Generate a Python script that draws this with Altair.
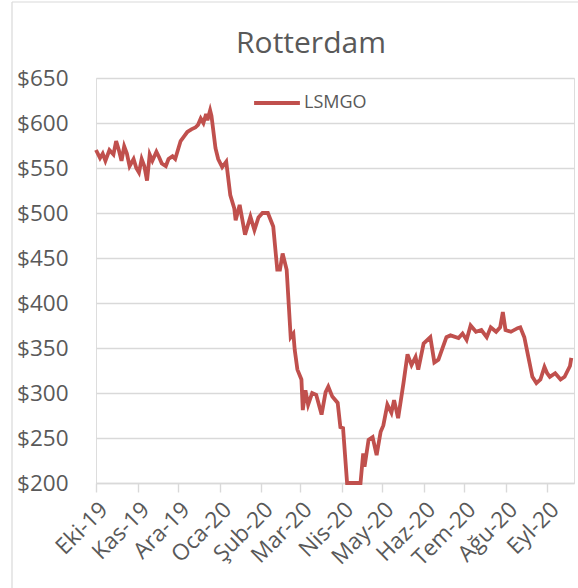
import altair as alt
import pandas as pd

# LSMGO bunker price, Rotterdam (USD/t)
dates = [
    "2019-10-01", "2019-10-04", "2019-10-06", "2019-10-08", "2019-10-11", "2019-10-14",
    "2019-10-16", "2019-10-18", "2019-10-20", "2019-10-22", "2019-10-24", "2019-10-26",
    "2019-10-29", "2019-10-31",
    "2019-11-02", "2019-11-04", "2019-11-06", "2019-11-08", "2019-11-10", "2019-11-12",
    "2019-11-15", "2019-11-17", "2019-11-19", "2019-11-22", "2019-11-24", "2019-11-27",
    "2019-11-29",
    "2019-12-01", "2019-12-03", "2019-12-06", "2019-12-08", "2019-12-11", "2019-12-14",
    "2019-12-16", "2019-12-18", "2019-12-20", "2019-12-22", "2019-12-23", "2019-12-25",
    "2019-12-26", "2019-12-29", "2019-12-31",
    "2020-01-03", "2020-01-06", "2020-01-09", "2020-01-12", "2020-01-13", "2020-01-16",
    "2020-01-20", "2020-01-24", "2020-01-27", "2020-01-30",
    "2020-02-02", "2020-02-06", "2020-02-10", "2020-02-13", "2020-02-15", "2020-02-17",
    "2020-02-20", "2020-02-23", "2020-02-25", "2020-02-26", "2020-02-28",
    "2020-03-02", "2020-03-03", "2020-03-05", "2020-03-07", "2020-03-10", "2020-03-13",
    "2020-03-17", "2020-03-20", "2020-03-22", "2020-03-25", "2020-03-29", "2020-03-31",
    "2020-04-02", "2020-04-05", "2020-04-09", "2020-04-15", "2020-04-17", "2020-04-18",
    "2020-04-21", "2020-04-24", "2020-04-27", "2020-04-30",
    "2020-05-02", "2020-05-05", "2020-05-08", "2020-05-10", "2020-05-13", "2020-05-17",
    "2020-05-20", "2020-05-23", "2020-05-26", "2020-05-28",
    "2020-06-01", "2020-06-06", "2020-06-09", "2020-06-12", "2020-06-18", "2020-06-21",
    "2020-06-27", "2020-06-30",
    "2020-07-03", "2020-07-06", "2020-07-10", "2020-07-14", "2020-07-18", "2020-07-21",
    "2020-07-25", "2020-07-28", "2020-07-30",
    "2020-08-01", "2020-08-05", "2020-08-10", "2020-08-12", "2020-08-15", "2020-08-18",
    "2020-08-21", "2020-08-24", "2020-08-27", "2020-08-30",
    "2020-09-01", "2020-09-03", "2020-09-07", "2020-09-11", "2020-09-14", "2020-09-18",
    "2020-09-19",
]
lsmgo = [
    570, 561, 566, 558, 570, 565, 580, 570, 558, 574, 566, 552, 560, 550,
    545, 560, 552, 536, 565, 558, 568, 562, 555, 552, 560, 563, 560,
    570, 580, 586, 590, 593, 595, 598, 605, 600, 610, 603, 614, 608, 572, 560,
    551, 557, 520, 505, 492, 509, 476, 496, 481, 495,
    500, 500, 485, 437, 437, 455, 437, 362, 366, 348, 326,
    315, 281, 303, 287, 300, 298, 276, 301, 307, 296, 289, 262,
    261, 200, 200, 200, 233, 218, 248, 251, 231, 257,
    264, 287, 278, 292, 272, 311, 343, 331, 340, 326,
    355, 362, 334, 337, 362, 364, 361, 366,
    359, 375, 368, 370, 362, 373, 368, 373, 390,
    370, 368, 372, 373, 362, 340, 318, 311, 315, 329,
    322, 318, 322, 315, 318, 330, 339,
]

# Month ticks and their Turkish labels
tick_months = ["2019-10", "2019-11", "2019-12", "2020-01", "2020-02", "2020-03",
               "2020-04", "2020-05", "2020-06", "2020-07", "2020-08", "2020-09"]
tick_labels = ["Eki-19", "Kas-19", "Ara-19", "Oca-20", "Şub-20", "Mar-20",
               "Nis-20", "May-20", "Haz-20", "Tem-20", "Ağu-20", "Eyl-20"]
y_ticks = [200, 250, 300, 350, 400, 450, 500, 550, 600, 650]

chart_title = "Rotterdam"
series_name = "LSMGO"
df = pd.DataFrame({"date": dates, "price": lsmgo, "series": series_name})

tick_values = [
    alt.DateTime(year=int(m[:4]), month=int(m[5:]), date=1, utc=True) for m in tick_months
]
months_js = "[" + ",".join(f"'{m}'" for m in tick_months) + "]"
labels_js = "[" + ",".join(f"'{l}'" for l in tick_labels) + "]"
label_expr = f"{labels_js}[indexof({months_js}, utcFormat(datum.value, '%Y-%m'))]"

FONT = "Open Sans"
GREY = "#595959"
GRID = "#D9D9D9"

line = alt.Chart(df).mark_line(strokeWidth=3.8, interpolate="linear").encode(
    x=alt.X(
        "date:T",
        scale=alt.Scale(
            type="utc",
            domain=[alt.DateTime(year=2019, month=10, date=1, utc=True),
                    alt.DateTime(year=2020, month=9, date=21, utc=True)],
        ),
        axis=alt.Axis(
            values=tick_values,
            labelExpr=label_expr,
            labelAngle=-45,
            labelFontSize=22.5,
            labelColor=GREY,
            labelFont=FONT,
            labelPadding=6,
            labelOverlap=False,
            labelBound=False,
            labelFlush=False,
            grid=False,
            domainColor=GRID,
            domainWidth=1.4,
            tickColor=GRID,
            tickWidth=1.4,
            tickSize=9,
            title=None,
        ),
    ),
    y=alt.Y(
        "price:Q",
        scale=alt.Scale(domain=[200, 650], nice=False, zero=False),
        axis=alt.Axis(
            values=y_ticks,
            labelExpr="'$' + datum.value",
            labelFontSize=22.5,
            labelColor=GREY,
            labelFont=FONT,
            labelPadding=28,
            labelOverlap=False,
            domain=False,
            ticks=False,
            gridColor=GRID,
            gridWidth=1.4,
            title=None,
        ),
    ),
    color=alt.Color(
        "series:N",
        scale=alt.Scale(domain=[series_name], range=["#C0504D"]),
        legend=alt.Legend(
            orient="none",
            legendX=156,
            legendY=0,
            title=None,
            symbolType="stroke",
            symbolStrokeWidth=4,
            symbolSize=2100,
            labelFontSize=18,
            labelColor=GREY,
            labelFont=FONT,
            labelOffset=2,
        ),
    ),
)

# Chart title, centred above the plot
title_df = pd.DataFrame({"t": [chart_title]})
title = alt.Chart(title_df).mark_text(
    fontSize=30, font=FONT, color=GREY, align="center", baseline="alphabetic"
).encode(text="t:N", x=alt.value(215), y=alt.value(-25))

# Thin frame around the chart
frame_left = alt.Chart(title_df).mark_rule(color=GRID, strokeWidth=1.2).encode(
    x=alt.value(-84), y=alt.value(-76), y2=alt.value(520)
)
frame_top = alt.Chart(title_df).mark_rule(color=GRID, strokeWidth=1.2).encode(
    x=alt.value(-84), x2=alt.value(490), y=alt.value(-76)
)

chart = alt.layer(frame_left, frame_top, title, line).properties(
    width=478,
    height=405,
    autosize=alt.AutoSizeParams(type="none"),
    padding={"left": 96, "top": 78, "right": 4, "bottom": 105},
).configure_view(stroke=None).configure(background="white")

chart.save("out.html", embed_options={"renderer": "svg", "actions": False})
